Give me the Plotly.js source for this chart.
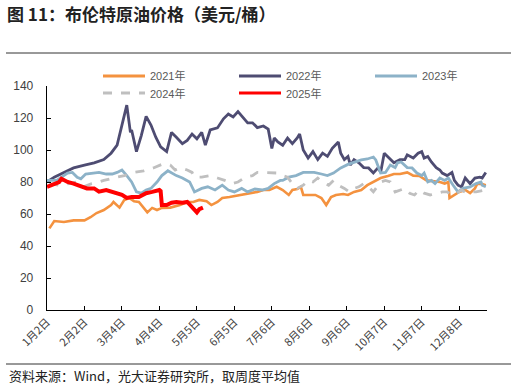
<!DOCTYPE html>
<html>
<head>
<meta charset="utf-8">
<script src="https://cdn.plot.ly/plotly-3.0.1.min.js"></script>
<style>
html,body{margin:0;padding:0;background:#fff;}
#chart{width:516px;height:386px;}
</style>
</head>
<body>
<div id="chart"></div>
<script>
// x = days since Jan 2 (category axis of a full year)
const tickDays = [0,31,62,93,124,155,186,217,248,279,310,341];
const tickLabels = ["1月2日","2月2日","3月4日","4月4日","5月5日","6月5日","7月6日","8月6日","9月6日","10月7日","11月7日","12月8日"];

const d2021 = [2,6,14,22,31,36,41,47,53,55,60,64,68,72,76,80,83,87,91,95,102,110,116,121,126,132,136,141,145,151,160,166,174,179,184,190,195,200,203,207,210,212,217,222,227,231,235,239,245,249,254,260,265,270,276,282,287,292,298,303,308,314,319,325,329,332,333,337,341,346,350,354,356,360,363];
const v2021 = [51,55.6,55,56,56,58,60.6,62.5,65.6,67.5,64,68.8,70,68,67.5,63.8,61,63.8,62.5,63.8,64,65.6,67.5,67.5,68.8,68,65.6,67.5,70,70.6,71.9,73,73.8,75,75,77,75,71.9,75,75.6,77,71.9,71.9,71.9,70,65.6,70.6,71.9,72.5,71.9,73.8,75,78,80,82.5,83.8,85,85,86,84,83.8,81,80.6,80,79,80,70,71.9,73.8,75,73,76,79,78.8,78];

const d2022 = [0,6,14,22,31,39,47,53,58,63,66,69,70,74,78,82,86,90,94,99,103,107,112,116,120,124,128,131,135,141,146,150,154,158,162,166,170,174,179,183,186,188,191,195,199,203,207,209,212,216,220,224,228,232,236,241,243,246,249,251,254,258,262,266,270,274,276,279,283,287,292,296,298,303,307,310,312,315,318,322,325,327,331,335,337,340,343,346,350,354,358,360,363];
const v2022 = [80,83,86,88.8,90.6,92,94,98,103,117.5,128,111,112.5,99,109,121,115.6,108,102,99,111,108,104,106,110,107,111,103,112.5,113.8,119.5,122.5,120.6,124,120.6,117,117,114,115,113,101,107.5,105,103,107.5,104,107.5,110,100,95,99,94,98,96,101,105,98,94,96,90.6,94,92,89,88.8,85.6,89,86,98,95,92,94,94,97,95,98,99,95,96,92.5,89,87.5,85.6,84,86,81,78,77,82.5,79,82.5,83,82.5,86];

const d2023 = [0,8,17,21,25,28,32,37,43,49,54,58,62,66,70,74,78,82,86,91,95,100,107,112,118,122,128,133,139,145,150,155,161,166,172,178,183,188,193,195,200,206,212,217,221,227,232,237,243,249,254,260,265,270,272,276,280,284,288,290,293,298,302,306,310,312,315,318,321,325,329,332,336,340,344,350,355,359,360,363];
const v2023 = [81,81,85.6,86,83,82,85,85.6,86,85,85,86,87.5,84,80,73.8,73,75,76,80,84,87,84,82.5,80,73.8,76,77,75,78,75,73.8,76,73.8,75.6,75,76,79,81,81,83,84,86,86,86,85,84,85.6,88.8,91,92.5,93.8,94.4,95.6,93.8,85.6,86,90.6,89,92,92.5,89,88.8,85.6,84,85.6,80,81,79,82.5,81,82.5,78,73.8,76,77,79,80,78,77];

const d2024 = [2,10,18,24,30,37,43,47,55,64,72,80,88,95,102,106,110,116,120,122,128,135,141,147,153,158,164,170,174,180,186,191,195,199,203,207,212,216,220,224,228,233,237,241,246,250,254,258,262,266,270,272,276,280,284,288,292,296,300,304,308,312,317,322,327,331,335,339,343,347,351,355,360,362];
const v2024 = [79,78,79,80,77,79,80,81,82.5,84,86,87,88.8,91,90.6,87.5,89,87.5,86,83,83,84,82.5,81,79,80,83,84,86,86,86,85.6,84,83,79,76,78,81,80,82.5,80,78,81,78,76,73.8,76,77,79,77,73.8,76,80,81,80,73.8,75,76,73,71.9,75,73,71.9,73,73.8,73.8,71.9,73,75,73,73.8,73.8,74.4,75];

const d2025 = [0,6,10,12,17,22,28,33,39,43,49,53,57,62,66,70,76,82,87,93,94,95,99,103,107,112,116,120,124,126,129];
const v2025 = [77,78.5,80,82,80,79,77,76,76,74,75,74,73,72,70,70.6,70.6,73,73.8,75,74.4,65.6,65.6,67,67.5,67,67.5,64,61,63,64];

const seriesNames = ["2021年","2022年","2023年","2024年","2025年"];
const seriesDays = [d2021,d2022,d2023,d2024,d2025];
const seriesVals = [v2021,v2022,v2023,v2024,v2025];
const colors = ["#F4923F","#4E4C72","#8CB2C8","#BFBFBF","#FF0000"];
const widths = [2.6,2.8,2.8,2.8,4];
const dashes = ["solid","solid","solid","dash","solid"];

const traces = seriesNames.map((n,i)=>({
  type:"scatter", mode:"lines", name:n,
  x:seriesDays[i], y:seriesVals[i],
  line:{color:colors[i], width:widths[i], dash:dashes[i]},
  showlegend:false, hoverinfo:"skip"
}));

// manual legend placement (px -> paper)
const L=47, R=487, T=86, B=310;
const px = x => (x-L)/(R-L);
const py = y => (B-y)/(B-T);
const legPos = [[103,76],[239,76],[375,76],[103,93],[239,93]];
const shapes = [];
const annotations = [];
seriesNames.forEach((n,i)=>{
  const [lx,ly] = legPos[i];
  shapes.push({type:"line", xref:"paper", yref:"paper", x0:px(lx), x1:px(lx+42), y0:py(ly), y1:py(ly),
    line:{color:colors[i], width:3, dash: dashes[i]==="dash" ? "dash" : "solid"}});
  annotations.push({xref:"paper", yref:"paper", x:px(lx+45), y:py(ly), xanchor:"left", yanchor:"middle",
    text:n, showarrow:false, font:{size:11, color:"#595959", family:"Liberation Sans, Noto Sans CJK SC"}});
});
shapes.push({type:"line", xref:"paper", yref:"paper", x0:px(6), x1:px(511), y0:py(53), y1:py(53), line:{color:"#333333", width:1}});
shapes.push({type:"line", xref:"paper", yref:"paper", x0:px(6), x1:px(511), y0:py(364), y1:py(364), line:{color:"#333333", width:1}});
annotations.push({xref:"paper", yref:"paper", x:px(7), y:py(375), xanchor:"left", yanchor:"middle", showarrow:false,
  text:"资料来源：Wind，光大证券研究所，取周度平均值", font:{size:13, color:"#222222", family:"Noto Sans CJK SC"}});

const layout = {
  width:516, height:386,
  margin:{l:47, r:29, t:86, b:76},
  paper_bgcolor:"#ffffff", plot_bgcolor:"#ffffff",
  font:{family:"Liberation Sans, Noto Sans CJK SC", size:11, color:"#404040"},
  title:{text:"<b>图 11：布伦特原油价格（美元/桶）</b>", xref:"container", yref:"container", x:7/516, xanchor:"left",
    y:1-15/386, yanchor:"middle", font:{size:17, color:"#222222", family:"Noto Sans CJK SC"}},
  showlegend:false,
  xaxis:{range:[0,364], tickmode:"array", tickvals:tickDays, ticktext:tickLabels, tickangle:-45,
    showgrid:false, zeroline:false, showline:true, linecolor:"#000000", linewidth:1.3,
    ticks:"inside", ticklen:4, tickcolor:"#000000", tickfont:{size:11, color:"#404040", family:"Noto Sans CJK SC"}},
  yaxis:{range:[0,140], tickmode:"linear", tick0:0, dtick:20, showgrid:false, zeroline:false,
    showline:true, linecolor:"#000000", linewidth:1.3, ticks:"inside", ticklen:4, tickcolor:"#000000",
    ticklabelstandoff:10, tickfont:{size:12, color:"#404040"}},
  shapes:shapes, annotations:annotations
};
Plotly.newPlot("chart", traces, layout, {displayModeBar:false, staticPlot:true});
</script>
</body>
</html>
